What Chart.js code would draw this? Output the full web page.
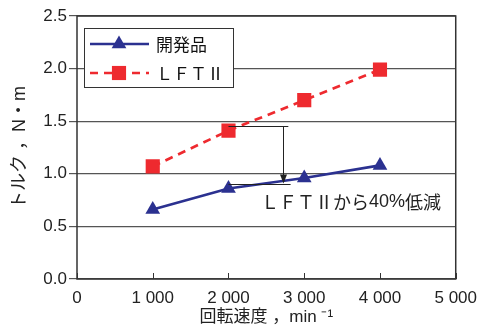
<!DOCTYPE html>
<html>
<head>
<meta charset="utf-8">
<script src="https://cdn.jsdelivr.net/npm/chart.js@4/dist/chart.umd.min.js"></script>
<style>
    html, body { margin: 0; padding: 0; background: #fff; }
    #wrap { width: 486px; height: 330px; }
</style>
</head>
<body>
<div id="wrap"><canvas id="torqueChart"></canvas></div>
<script>
    const speeds = [1000, 2000, 3000, 4000];
    const developed = [0.66, 0.86, 0.96, 1.08];
    const lft2 = [1.07, 1.41, 1.70, 1.99];
    const xTickLabels = ['0', '1 000', '2 000', '3 000', '4 000', '5 000'];
    const yTickLabels = ['0.0', '0.5', '1.0', '1.5', '2.0', '2.5'];
    const seriesNames = ['開発品', 'ＬＦＴⅡ'];
    const noteText = 'ＬＦＴⅡから40%低減';

    (function () {
        const FONT = '"Liberation Sans", Arial, "Noto Sans CJK JP", sans-serif';
        const CJK = '"Noto Sans CJK JP", sans-serif';
        const BLUE = '#2b3190';
        const RED = '#ee2a2f';
        const INK = '#222';

        function toPoints(ys) {
            return speeds.map(function (s, i) {
                return { x: s, y: ys[i] };
            });
        }

        // ascii digits in Liberation, everything else in the CJK face
        function mixedText(ctx, text, x, y, size) {
            const parts = text.match(/[0-9%.]+|[^0-9%.]+/g) || [];
            parts.forEach(function (p) {
                ctx.font = size + 'px ' + (/[0-9%.]/.test(p[0]) ? FONT : CJK);
                ctx.fillText(p, x, y);
                x += ctx.measureText(p).width;
            });
        }

        // frame, inward x ticks, reduction arrow and text, legend
        const decorations = {
            id: 'decorations',
            beforeDatasetsDraw: function (chart) {
                const ctx = chart.ctx;
                const a = chart.chartArea;
                const x = chart.scales.x;
                ctx.save();
                ctx.strokeStyle = '#333';
                ctx.lineWidth = 1.5;
                ctx.strokeRect(a.left, a.top, a.right - a.left, a.bottom - a.top);
                ctx.lineWidth = 1;
                x.ticks.forEach(function (t) {
                    const px = Math.round(x.getPixelForValue(t.value)) + 0.5;
                    ctx.beginPath();
                    ctx.moveTo(px, a.bottom);
                    ctx.lineTo(px, a.bottom - 6);
                    ctx.stroke();
                });
                ctx.restore();
            },
            afterDatasetsDraw: function (chart) {
                const ctx = chart.ctx;
                const x = chart.scales.x;
                const y = chart.scales.y;
                ctx.save();
                ctx.strokeStyle = INK;
                ctx.fillStyle = INK;
                ctx.lineWidth = 1;

                const x0 = x.getPixelForValue(2000);
                const xUp = x.getPixelForValue(2790);
                const xLow = x.getPixelForValue(2820);
                const xArrow = Math.round(x.getPixelForValue(2720)) + 0.5;
                const yUp = Math.round(y.getPixelForValue(1.455)) + 0.5;
                const yLow = Math.round(y.getPixelForValue(0.905)) + 0.5;

                ctx.beginPath();
                ctx.moveTo(x0, yUp);
                ctx.lineTo(xUp, yUp);
                ctx.moveTo(x0, yLow);
                ctx.lineTo(xLow, yLow);
                ctx.moveTo(xArrow, yUp);
                ctx.lineTo(xArrow, yLow - 8);
                ctx.stroke();
                ctx.beginPath();
                ctx.moveTo(xArrow - 3.5, yLow - 10);
                ctx.lineTo(xArrow + 3.5, yLow - 10);
                ctx.lineTo(xArrow, yLow - 1);
                ctx.closePath();
                ctx.fill();

                ctx.textBaseline = 'middle';
                mixedText(ctx, noteText, x.getPixelForValue(2430), y.getPixelForValue(0.735), 18);

                // legend box
                const lx = 84, ly = 28, lw = 149, lh = 59;
                ctx.fillStyle = '#fff';
                ctx.fillRect(lx, ly, lw, lh);
                ctx.strokeStyle = '#333';
                ctx.strokeRect(lx + 0.5, ly + 0.5, lw, lh);

                const rows = [
                    { y: 44, color: BLUE, dash: [], shape: 'triangle', r: 8.5 },
                    { y: 73, color: RED, dash: [8, 6], shape: 'rect', r: 10 }
                ];
                rows.forEach(function (row, i) {
                    ctx.strokeStyle = row.color;
                    ctx.fillStyle = row.color;
                    ctx.lineWidth = 2.5;
                    ctx.setLineDash(row.dash);
                    ctx.beginPath();
                    ctx.moveTo(90, row.y);
                    ctx.lineTo(149, row.y);
                    ctx.stroke();
                    ctx.setLineDash([]);
                    Chart.helpers.drawPoint(ctx, {
                        pointStyle: row.shape,
                        radius: row.r,
                        rotation: 0,
                        borderWidth: 0
                    }, 119, row.y);
                    ctx.fillStyle = '#111';
                    ctx.textBaseline = 'middle';
                    mixedText(ctx, seriesNames[i], 156, row.y + 1, 17);
                });
                ctx.restore();
            }
        };

        new Chart(document.getElementById('torqueChart'), {
            type: 'line',
            data: {
                datasets: [{
                    label: seriesNames[0],
                    data: toPoints(developed),
                    borderColor: BLUE,
                    backgroundColor: BLUE,
                    borderWidth: 2.7,
                    pointStyle: 'triangle',
                    pointRadius: 8.5,
                    pointHoverRadius: 8.5,
                    pointBorderWidth: 0
                }, {
                    label: seriesNames[1],
                    data: toPoints(lft2),
                    borderColor: RED,
                    backgroundColor: RED,
                    borderWidth: 2.7,
                    borderDash: [8, 6],
                    pointStyle: 'rect',
                    pointRadius: 10,
                    pointHoverRadius: 10,
                    pointBorderWidth: 0
                }]
            },
            options: {
                responsive: true,
                maintainAspectRatio: false,
                animation: false,
                events: [],
                layout: {
                    padding: { top: 16, right: 28, left: 0, bottom: 0 }
                },
                plugins: {
                    legend: { display: false },
                    tooltip: { enabled: false }
                },
                scales: {
                    x: {
                        type: 'linear',
                        min: 0,
                        max: 5000,
                        afterFit: function (s) { s.height = 51; },
                        afterBuildTicks: function (s) {
                            s.ticks = xTickLabels.map(function (_, i) { return { value: i * 1000 }; });
                        },
                        grid: { display: false, drawTicks: false },
                        border: { display: false },
                        ticks: {
                            padding: 9,
                            color: '#222',
                            font: { family: FONT, size: 17 },
                            maxRotation: 0,
                            callback: function (v, i) { return xTickLabels[i]; }
                        },
                        title: {
                            display: true,
                            text: '回転速度 ，min ⁻¹',
                            color: '#222',
                            font: { family: FONT, size: 17 },
                            padding: { top: 0, bottom: 2 }
                        }
                    },
                    y: {
                        min: 0,
                        max: 2.5,
                        afterFit: function (s) { s.width = 77; },
                        afterBuildTicks: function (s) {
                            s.ticks = yTickLabels.map(function (_, i) { return { value: i * 0.5 }; });
                        },
                        grid: {
                            color: '#555',
                            lineWidth: 1.2,
                            tickLength: 8
                        },
                        border: { display: false },
                        ticks: {
                            padding: 2,
                            color: '#222',
                            font: { family: FONT, size: 17 },
                            callback: function (v, i) { return yTickLabels[i]; }
                        },
                        title: {
                            display: true,
                            text: 'トルク ，N・m',
                            color: '#222',
                            font: { family: FONT, size: 18 },
                            padding: { top: 9, bottom: 0 }
                        }
                    }
                }
            },
            plugins: [decorations]
        });
    })();
</script>
</body>
</html>
